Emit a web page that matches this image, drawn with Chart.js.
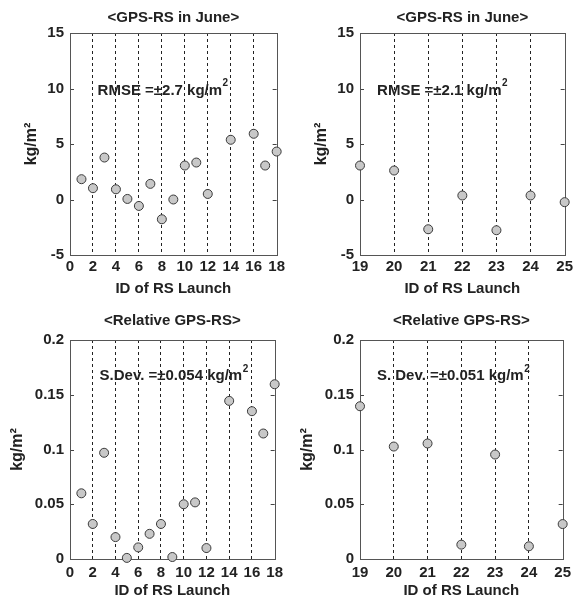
<!DOCTYPE html>
<html><head><meta charset="utf-8">
<script src="https://cdn.jsdelivr.net/npm/chart.js@4.4.1/dist/chart.umd.min.js"></script>
<style>
html,body{margin:0;padding:0;background:#fff;width:576px;height:601px;overflow:hidden;}
.c{position:absolute;}
</style></head><body>
<div class="c" style="left:0;top:0;width:288px;height:300px"><canvas id="c1"></canvas></div>
<div class="c" style="left:288px;top:0;width:288px;height:300px"><canvas id="c2"></canvas></div>
<div class="c" style="left:0;top:300px;width:288px;height:301px"><canvas id="c3"></canvas></div>
<div class="c" style="left:288px;top:300px;width:288px;height:301px"><canvas id="c4"></canvas></div>
<script>
// ---- data ----
const idsA = [1,2,3,4,5,6,7,8,9,10,11,12,14,16,17,18];
const diffA = [1.83,1.02,3.78,0.92,0.05,-0.58,1.41,-1.78,0.0,3.06,3.33,0.50,5.38,5.92,3.06,4.32];
const relA = [0.060,0.032,0.097,0.020,0.001,0.0106,0.023,0.032,0.0018,0.050,0.0517,0.010,0.1444,0.135,0.1146,0.1596];
const idsB = [19,20,21,22,23,24,25];
const diffB = [3.06,2.61,-2.68,0.36,-2.77,0.36,-0.24];
const relB = [0.1395,0.1027,0.1055,0.0131,0.0954,0.0116,0.0319];
const titleTop = '<GPS-RS in June>';
const titleBottom = '<Relative GPS-RS>';
const xLabel = 'ID of RS Launch';
const yLabel = 'kg/m\u00B2';
const noteA = ['RMSE =\u00B12.7 kg/m', '2'];
const noteB = ['RMSE =\u00B12.1 kg/m', '2'];
const noteC = ['S.Dev. =\u00B10.054 kg/m', '2'];
const noteD = ['S. Dev. =\u00B10.051 kg/m', '2'];

const FONT = "'Liberation Sans', Arial, sans-serif";
const TXT = '#222';

const boxPlugin = {
  id: 'box',
  beforeDatasetsDraw(chart, args, opts) {
    const {ctx, chartArea: a, scales} = chart;
    const y = scales.y;
    ctx.save();
    const n = opts.note;
    const px = scales.x.getPixelForValue(n.x);
    const py = y.getPixelForValue(n.y);
    ctx.fillStyle = TXT;
    ctx.textBaseline = 'middle';
    ctx.textAlign = 'left';
    ctx.font = 'bold 15px ' + FONT;
    ctx.fillText(n.text[0], px, py);
    const w = ctx.measureText(n.text[0]).width;
    ctx.font = 'bold 10px ' + FONT;
    ctx.fillText(n.text[1], px + w + 0.5, py - 7);
    ctx.strokeStyle = '#444';
    ctx.lineWidth = 1;
    ctx.setLineDash([]);
    y.ticks.forEach(t => {
      const yy = Math.round(y.getPixelForValue(t.value)) + 0.5;
      ctx.beginPath();
      ctx.moveTo(a.left, yy); ctx.lineTo(a.left + 4, yy);
      ctx.moveTo(a.right, yy); ctx.lineTo(a.right - 4, yy);
      ctx.stroke();
    });
    ctx.strokeStyle = '#555';
    ctx.strokeRect(Math.round(a.left) + 0.5, Math.round(a.top) + 0.5, Math.round(a.right - a.left), Math.round(a.bottom - a.top));
    ctx.restore();
  }
};
Chart.register(boxPlugin);

function make(id, cfg) {
  const xs = cfg.ids, ys = cfg.vals;
  new Chart(document.getElementById(id), {
    type: 'scatter',
    data: { datasets: [{
      data: xs.map((x, i) => ({x: x, y: ys[i]})),
      backgroundColor: '#c8c8c8',
      borderColor: '#3a3a3a',
      borderWidth: 1,
      pointRadius: 4.5,
      pointHoverRadius: 4.5,
      clip: false
    }]},
    options: {
      responsive: true,
      maintainAspectRatio: false,
      animation: false,
      events: [],
      layout: { padding: { left: 0, right: cfg.padR, top: 0, bottom: 0 } },
      plugins: {
        legend: { display: false },
        tooltip: { enabled: false },
        title: {
          display: true, text: cfg.title, fullSize: false, color: TXT,
          font: { family: FONT, size: 15, weight: 'bold', lineHeight: 1.2 },
          padding: { top: cfg.tPadTop, bottom: cfg.tPadBot }
        },
        box: { note: cfg.note }
      },
      scales: {
        x: {
          type: 'linear', min: cfg.xmin, max: cfg.xmax,
          afterFit(s) { s.height = cfg.xH; },
          ticks: { stepSize: cfg.xstep, autoSkip: false, maxRotation: 0, color: TXT, padding: cfg.xTickPad,
                   font: { family: FONT, size: 15, weight: 'bold' } },
          grid: {
            drawTicks: false,
            color: (c) => (c.tick && (c.tick.value === cfg.xmin || c.tick.value === cfg.xmax)) ? 'rgba(0,0,0,0)' : '#222',
            lineWidth: 1
          },
          border: { display: false, dash: [3, 3] },
          title: { display: true, text: xLabel, color: TXT,
                   font: { family: FONT, size: 15, weight: 'bold', lineHeight: 1.2 },
                   padding: { top: 0, bottom: cfg.xTitlePad } }
        },
        y: {
          type: 'linear', min: cfg.ymin, max: cfg.ymax,
          afterFit(s) { s.width = cfg.yW; },
          ticks: { stepSize: cfg.ystep, color: TXT, padding: 6,
                   callback: (v) => String(Number(v.toFixed(3))),
                   font: { family: FONT, size: 15, weight: 'bold' } },
          grid: { display: false, drawTicks: false },
          border: { display: false },
          title: { display: true, text: yLabel, color: TXT,
                   font: { family: FONT, size: 16, weight: 'bold', lineHeight: 1.2 },
                   padding: { top: cfg.yTitlePad, bottom: 0 } }
        }
      }
    }
  });
}

const rowTop = { tPadTop: 9, tPadBot: 6, xH: 45, xTickPad: 3, xTitlePad: 2 };
const rowBot = { tPadTop: 12, tPadBot: 10, xH: 42, xTickPad: 5, xTitlePad: 1 };

make('c1', Object.assign({}, rowTop, { ids: idsA, vals: diffA, title: titleTop, xmin: 0, xmax: 18, xstep: 2,
  ymin: -5, ymax: 15, ystep: 5, yW: 70, padR: 10, yTitlePad: 22, note: {x: 2.4, y: 9.8, text: noteA} }));
make('c2', Object.assign({}, rowTop, { ids: idsB, vals: diffB, title: titleTop, xmin: 19, xmax: 25, xstep: 1,
  ymin: -5, ymax: 15, ystep: 5, yW: 72, padR: 8, yTitlePad: 24, note: {x: 19.5, y: 9.8, text: noteB} }));
make('c3', Object.assign({}, rowBot, { ids: idsA, vals: relA, title: titleBottom, xmin: 0, xmax: 18, xstep: 2,
  ymin: 0, ymax: 0.2, ystep: 0.05, yW: 70, padR: 10, yTitlePad: 8, note: {x: 2.6, y: 0.167, text: noteC} }));
make('c4', Object.assign({}, rowBot, { ids: idsB, vals: relB, title: titleBottom, xmin: 19, xmax: 25, xstep: 1,
  ymin: 0, ymax: 0.2, ystep: 0.05, yW: 72, padR: 8, yTitlePad: 10, note: {x: 19.5, y: 0.167, text: noteD} }));
</script>
</body></html>
